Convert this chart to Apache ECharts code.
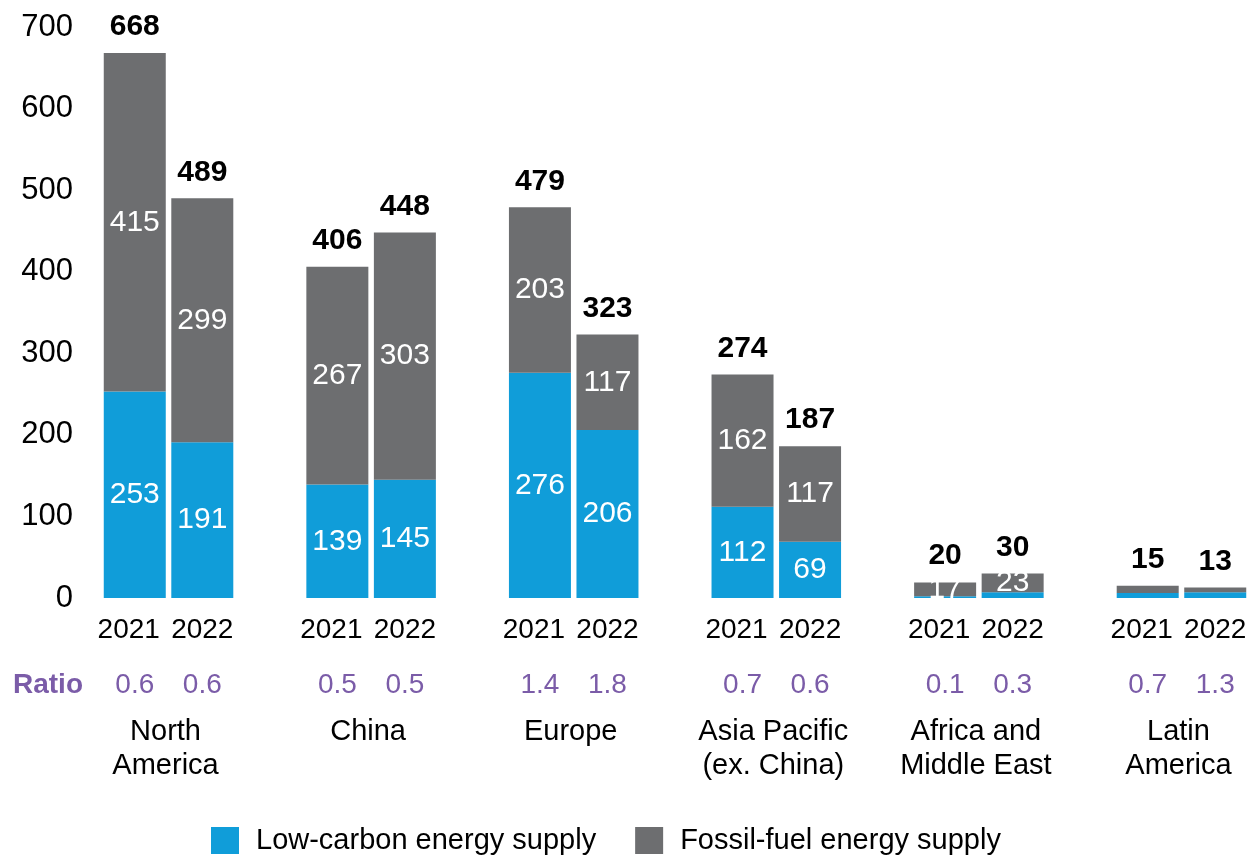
<!DOCTYPE html>
<html>
<head>
<meta charset="utf-8">
<script src="https://cdn.jsdelivr.net/npm/echarts@6/dist/echarts.min.js"></script>
<style>
  html, body { margin: 0; padding: 0; background: #fff; }
  #chart { width: 1255px; height: 856px; }
</style>
</head>
<body>
<div id="chart"></div>
<script>
// Regions and years, one bar per region-year pair
const regions = ['North\nAmerica', 'China', 'Europe', 'Asia Pacific\n(ex. China)', 'Africa and\nMiddle East', 'Latin\nAmerica'];
const years = ['2021', '2022'];

// Values per bar, in order: region 1 / 2021, region 1 / 2022, region 2 / 2021, ...
const lowCarbon  = [253, 191, 139, 145, 276, 206, 112, 69, 2, 7, 6, 7];
const fossilFuel = [415, 299, 267, 303, 203, 117, 162, 117, 17, 23, 9, 6];
const totals     = [668, 489, 406, 448, 479, 323, 274, 187, 20, 30, 15, 13];
const ratios     = ['0.6', '0.6', '0.5', '0.5', '1.4', '1.8', '0.7', '0.6', '0.1', '0.3', '0.7', '1.3'];

const yMin = 0, yMax = 700, yStep = 100;

const BLUE = '#109dd9';
const GREY = '#6d6e70';
const PURPLE = '#7b5ca8';
const FONT = "'Liberation Sans', Arial, sans-serif";

// Slot layout: two bars per region, then an empty slot between regions
const slots = [];
regions.forEach((r, i) => {
  years.forEach((y, j) => slots.push({ bar: i * 2 + j, region: i, year: j }));
  if (i < regions.length - 1) slots.push(null);
});
const categories = slots.map((s, k) => s ? regions[s.region].replace('\n', ' ') + ' ' + years[s.year] : 'gap' + k);
const toSlots = arr => slots.map(s => s ? arr[s.bar] : '-');

const GRID_LEFT = 101, GRID_RIGHT = 6;
const slotWidth = (1255 - GRID_LEFT - GRID_RIGHT) / slots.length;

const chart = echarts.init(document.getElementById('chart'));

const innerLabel = {
  show: true,
  position: 'inside',
  color: '#fff',
  fontSize: 30,
  fontFamily: FONT,
  formatter: p => (p.value >= 10 ? String(p.value) : '')
};

chart.setOption({
  animation: false,
  backgroundColor: '#fff',
  textStyle: { fontFamily: FONT },
  grid: { left: GRID_LEFT, right: GRID_RIGHT, top: 27, bottom: 258, containLabel: false },
  legend: {
    data: ['Low-carbon energy supply', 'Fossil-fuel energy supply'],
    left: 211,
    top: 826,
    padding: 0,
    itemWidth: 28,
    itemHeight: 27,
    itemGap: 39,
    icon: 'rect',
    textStyle: { fontSize: 29, color: '#000', fontFamily: FONT, padding: [0, 0, 0, 12] }
  },
  xAxis: {
    type: 'category',
    data: categories,
    axisLine: { show: false },
    axisTick: { show: false },
    axisLabel: {
      interval: 0,
      margin: 15,
      fontFamily: FONT,
      formatter: (value, index) => {
        const s = slots[index];
        if (!s) return '';
        let txt = '{' + (s.year === 0 ? 'y0' : 'y') + '|' + years[s.year] + '}\n{r|' + ratios[s.bar] + '}';
        if (s.year === 0) {
          // region name centred under the pair of bars
          txt += '\n' + regions[s.region].split('\n').map(l => '{n|' + l + '}').join('\n');
        }
        return txt;
      },
      rich: {
        y:  { fontSize: 28, lineHeight: 34, color: '#000', fontFamily: FONT },
        y0: { fontSize: 28, lineHeight: 34, color: '#000', fontFamily: FONT, padding: [0, 12, 0, 0] },
        r:  { fontSize: 28, lineHeight: 68, color: PURPLE, fontFamily: FONT, padding: [8, 0, 0, 0] },
        n:  { fontSize: 29, lineHeight: 34, color: '#000', fontFamily: FONT, padding: [0, 0, 0, slotWidth - 6] }
      }
    }
  },
  yAxis: {
    type: 'value',
    min: yMin,
    max: yMax,
    interval: yStep,
    axisLine: { show: false },
    axisTick: { show: false },
    splitLine: { show: false },
    axisLabel: { fontSize: 31, color: '#000', margin: 28, fontFamily: FONT }
  },
  series: [
    {
      name: 'Low-carbon energy supply',
      type: 'bar',
      stack: 'supply',
      data: toSlots(lowCarbon),
      barWidth: 62,
      barGap: '-100%',
      itemStyle: { color: BLUE },
      label: innerLabel
    },
    {
      name: 'Fossil-fuel energy supply',
      type: 'bar',
      stack: 'supply',
      data: toSlots(fossilFuel),
      barWidth: 62,
      barGap: '-100%',
      itemStyle: { color: GREY },
      label: innerLabel
    },
    {
      name: 'Total',
      type: 'bar',
      data: toSlots(totals),
      barWidth: 62,
      barGap: '-100%',
      silent: true,
      z: 1,
      itemStyle: { color: 'rgba(0,0,0,0)' },
      label: {
        show: true,
        position: 'top',
        distance: 11,
        color: '#000',
        fontSize: 30,
        fontWeight: 'bold',
        fontFamily: FONT
      }
    }
  ],
  graphic: [
    {
      type: 'text',
      x: 13,
      y: 685,
      style: {
        text: 'Ratio',
        font: 'bold 28px ' + FONT,
        fill: PURPLE,
        verticalAlign: 'middle'
      }
    }
  ]
});
</script>
</body>
</html>
